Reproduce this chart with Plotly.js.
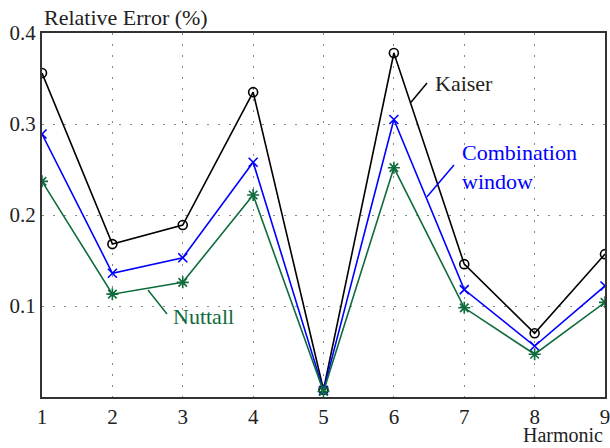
<!DOCTYPE html>
<html>
<head>
<meta charset="utf-8">
<script src="https://cdn.plot.ly/plotly-3.0.1.min.js"></script>
<style>html,body{margin:0;padding:0;background:#fff;}#chart{width:610px;height:448px;}</style>
</head>
<body>
<div id="chart"></div>
<script>
const harmonics = [1, 2, 3, 4, 5, 6, 7, 8, 9];
const kaiser = [0.356, 0.168, 0.189, 0.335, 0.008, 0.378, 0.146, 0.070, 0.157];
const combination = [0.289, 0.136, 0.153, 0.258, 0.007, 0.305, 0.118, 0.056, 0.122];
const nuttall = [0.237, 0.113, 0.126, 0.222, 0.006, 0.252, 0.098, 0.047, 0.104];
const yTicks = [0.1, 0.2, 0.3, 0.4];

const FONT = "Liberation Serif";
const GREEN = "#0e6b3b";

const traces = [
  {x: harmonics, y: kaiser, mode: "lines+markers", name: "Kaiser",
   line: {color: "#000", width: 1.6},
   marker: {symbol: "circle-open", size: 9, color: "#000", line: {width: 1.6}}},
  {x: harmonics, y: combination, mode: "lines+markers", name: "Combination window",
   line: {color: "#0000ff", width: 1.6},
   marker: {symbol: "x-thin-open", size: 9, color: "#0000ff", line: {width: 1.6, color: "#0000ff"}}},
  {x: harmonics, y: nuttall, mode: "lines+markers", name: "Nuttall",
   line: {color: GREEN, width: 1.6},
   marker: {symbol: "asterisk-open", size: 10, color: GREEN, line: {width: 1.6, color: GREEN}}}
];

const layout = {
  width: 610, height: 448,
  margin: {l: 42, r: 5, t: 33, b: 51},
  paper_bgcolor: "#fff", plot_bgcolor: "#fff",
  showlegend: false,
  font: {family: FONT, size: 21, color: "#222"},
  xaxis: {range: [1, 9], tickvals: harmonics, ticks: "", showline: true, mirror: true,
          linecolor: "#333", linewidth: 2, showgrid: true, gridcolor: "#888", gridwidth: 1,
          griddash: "2px,9px", zeroline: false, ticklabeloverflow: "allow",
          tickfont: {family: FONT, size: 21, color: "#222"}},
  yaxis: {range: [0, 0.4], tickvals: yTicks, ticktext: yTicks.map(v => v.toFixed(1)), ticks: "",
          showline: true, mirror: true, linecolor: "#333", linewidth: 2, showgrid: true,
          gridcolor: "#888", gridwidth: 1, griddash: "2px,9px", zeroline: false,
          tickfont: {family: FONT, size: 21, color: "#222"}},
  annotations: [
    {text: "Relative Error (%)", xref: "paper", yref: "paper", x: 0, y: 1.0, yshift: 16,
     xanchor: "left", yanchor: "middle", showarrow: false, font: {family: FONT, size: 22, color: "#222"}},
    {text: "Harmonic", xref: "paper", yref: "paper", x: 1.0, y: 0, yshift: -38,
     xanchor: "right", yanchor: "middle", showarrow: false, font: {family: FONT, size: 20, color: "#222"}},
    {text: "Kaiser", x: 6.556, y: 0.345, xanchor: "left", yanchor: "middle", showarrow: false,
     font: {family: FONT, size: 22, color: "#222"}},
    {text: "Combination<br>window", x: 6.94, y: 0.253, xanchor: "left", yanchor: "middle", align: "left",
     showarrow: false, font: {family: FONT, size: 22, color: "#0000ff"}},
    {text: "Nuttall", x: 2.833, y: 0.088, xanchor: "left", yanchor: "middle", showarrow: false,
     font: {family: FONT, size: 22, color: GREEN}}
  ],
  shapes: [
    {type: "line", x0: 6.243, y0: 0.324, x1: 6.471, y1: 0.345, line: {color: "#000", width: 1.5}},
    {type: "line", x0: 6.471, y0: 0.220, x1: 6.854, y1: 0.255, line: {color: "#0000ff", width: 1.5}},
    {type: "line", x0: 2.506, y0: 0.1176, x1: 2.776, y1: 0.0912, line: {color: GREEN, width: 1.5}}
  ]
};

Plotly.newPlot("chart", traces, layout, {displayModeBar: false, staticPlot: true});
</script>
</body>
</html>
